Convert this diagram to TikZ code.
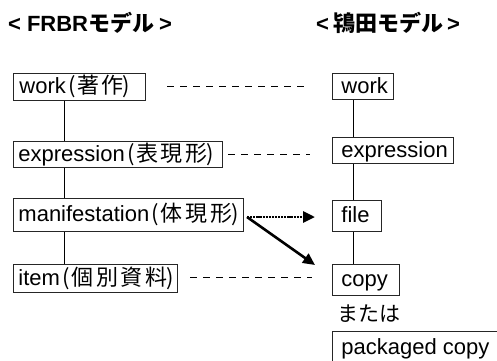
\documentclass[tikz,border=0pt]{standalone}
\usepackage{fontspec}
\setmainfont{Liberation Sans}
\newfontfamily\cjk{Noto Sans CJK JP}
\newfontfamily\cjkw[LetterSpace=12]{Noto Sans CJK JP}
\usetikzlibrary{arrows.meta}
\newcommand\boxtxt[3]{\makebox[#1][l]{\hspace{#2}#3}}
\newcommand\jpar[1]{{\cjk\hspace{2.5pt}(\hspace{1.5pt}{\cjkw #1}\hspace{-1pt})}}
\begin{document}
\begin{tikzpicture}[x=1pt,y=-1pt,
  box/.style={draw=black!85, line width=0.9pt, anchor=north west, inner xsep=0pt, inner ysep=0pt,
    text height=17.5pt, text depth=3.5pt, font=\fontsize{22}{26}\selectfont},
  link/.style={line width=0.8pt},
  dashline/.style={line width=0.7pt, dash pattern=on 7pt off 6pt},
  ttl/.style={font=\fontsize{22}{25}\selectfont\bfseries, anchor=west, inner sep=0pt},
  plain/.style={font=\fontsize{21}{24}\selectfont, inner sep=0pt},
  dotarrow/.style={line width=2.8pt, dash pattern=on 2.2pt off 0.9pt, -{Triangle[length=12pt,width=11pt]}},
  solarrow/.style={line width=2.6pt, -{Triangle[length=12pt,width=11pt]}}
]
\useasboundingbox (0,0) rectangle (497,360);
\clip (0,0) rectangle (497,360);

% titles
\node[ttl] (t1) at (8,23) {<\hspace{6pt}FRBR{\cjk モデル}\hspace{5pt}>};
\node[ttl] (t2) at (316,23) {<\hspace{4pt}{\cjk 鴇田モデル}\hspace{4pt}>};

% left (FRBR) boxes
\node[box, minimum height=27pt] (lw) at (13,73) {\boxtxt{132pt}{6pt}{work\jpar{著作}}};
\node[box, minimum height=26pt] (lexpr) at (13,141) {\boxtxt{209pt}{5pt}{expression\jpar{表現形}}};
\node[box, minimum height=33pt] (lman) at (13,198) {\boxtxt{230pt}{5pt}{manifestation\jpar{体現形}}};
\node[box, minimum height=28pt] (litem) at (13,264) {\boxtxt{164pt}{5pt}{item\jpar{個別資料}}};

% right boxes
\node[box, minimum height=26pt] (rw) at (332,73) {\boxtxt{61pt}{9pt}{work}};
\node[box, minimum height=26pt] (rexpr) at (332,137) {\boxtxt{121pt}{9pt}{expression}};
\node[box, minimum height=31pt] (rfile) at (332,200) {\boxtxt{49pt}{9pt}{file}};
\node[box, minimum height=31pt] (rcopy) at (332,264) {\boxtxt{67pt}{9pt}{copy}};
\node[plain] (mataha) at (369,314) {\cjk または};
\node[box, minimum height=32pt] (rpack) at (332,331) {\boxtxt{180pt}{9pt}{packaged copy}};

% vertical links
\coordinate (lx) at (64,0);
\coordinate (rx) at (353,0);
\draw[link] (lw.south -| lx) -- (lexpr.north -| lx);
\draw[link] (lexpr.south -| lx) -- (lman.north -| lx);
\draw[link] (lman.south -| lx) -- (litem.north -| lx);
\draw[link] (rw.south -| rx) -- (rexpr.north -| rx);
\draw[link] (rexpr.south -| rx) -- (rfile.north -| rx);
\draw[link] (rfile.south -| rx) -- (rcopy.north -| rx);

% dashed correspondences
\coordinate (d1a) at (167,86);  \coordinate (d1b) at (310,86);
\coordinate (d2a) at (228,154); \coordinate (d2b) at (310,154);
\coordinate (d3a) at (190,277); \coordinate (d3b) at (312,277);
\draw[dashline] (d1a) -- (d1b);
\draw[dashline] (d2a) -- (d2b);
\draw[dashline] (d3a) -- (d3b);

% arrows
\coordinate (a0) at (247,217);
\coordinate (a1) at (315,217);
\coordinate (a2) at (315,265);
\draw[dotarrow] (a0) -- (a1);
\draw[solarrow] (a0) -- (a2);
\end{tikzpicture}
\end{document}
